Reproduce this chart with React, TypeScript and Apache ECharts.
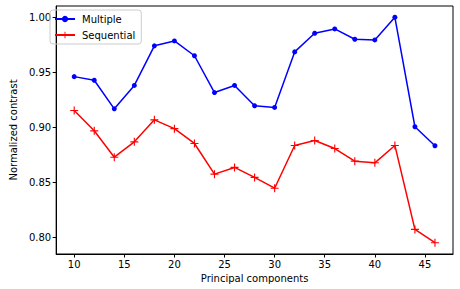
import React, { useEffect, useRef } from "react";
import * as echarts from "echarts";

const components = [10, 12, 14, 16, 18, 20, 22, 24, 26, 28, 30, 32, 34, 36, 38, 40, 42, 44, 46];
const multiple = [0.946, 0.9427, 0.9167, 0.938, 0.974, 0.9785, 0.965, 0.9315, 0.938, 0.9195, 0.918, 0.9685, 0.9855, 0.9894, 0.98, 0.9794, 1.0, 0.9004, 0.8831];
const sequential = [0.9152, 0.8967, 0.8727, 0.8867, 0.9067, 0.8987, 0.8852, 0.8573, 0.8634, 0.8543, 0.8445, 0.8834, 0.8879, 0.8806, 0.8691, 0.8676, 0.8834, 0.807, 0.7949];
const xTicks = [10, 15, 20, 25, 30, 35, 40, 45];
const yTicks = [0.8, 0.85, 0.9, 0.95, 1.0];

const FONT = "DejaVu Sans";
const PLUS = "path://M4.3,0H5.7V4.3H10V5.7H5.7V10H4.3V5.7H0V4.3H4.3Z";

export default function App() {
  const ref = useRef<HTMLDivElement>(null);
  useEffect(() => {
    const chart = echarts.init(ref.current!, null, { renderer: "svg" });
    const xMin = 8.2, xMax = 47.8;
    const lo = Math.min(...multiple, ...sequential);
    const hi = Math.max(...multiple, ...sequential);
    const pad = (hi - lo) * 0.05;
    chart.setOption({
      animation: false,
      textStyle: { fontFamily: FONT },
      grid: {
        left: 45, right: 7, top: 6, bottom: 35,
        show: true, borderColor: "#000", borderWidth: 1, backgroundColor: "transparent",
      },
      legend: {
        orient: "vertical", left: 50, top: 10,
        padding: [4, 6, 4, 4],
        itemWidth: 20, itemHeight: 8, itemGap: 6,
        borderColor: "#cccccc", borderWidth: 1, borderRadius: 3,
        textStyle: { fontFamily: FONT, fontSize: 10, color: "#000", padding: [0, 0, 0, 2] },
        data: ["Multiple", "Sequential"],
      },
      xAxis: {
        type: "value", min: xMin, max: xMax,
        name: "Principal components", nameLocation: "middle", nameGap: 17,
        nameTextStyle: { fontFamily: FONT, fontSize: 10, color: "#000" },
        axisLine: { show: true, lineStyle: { color: "#000", width: 1 } },
        axisTick: { show: true, length: 3.5, inside: false, customValues: xTicks, lineStyle: { color: "#000" } },
        axisLabel: { customValues: xTicks, margin: 5, fontSize: 10, color: "#000", fontFamily: FONT },
        splitLine: { show: false },
      },
      yAxis: {
        type: "value", min: lo - pad, max: hi + pad,
        name: "Normalized contrast", nameLocation: "middle", nameGap: 29,
        nameTextStyle: { fontFamily: FONT, fontSize: 10, color: "#000" },
        axisLine: { show: true, lineStyle: { color: "#000", width: 1 } },
        axisTick: { show: true, length: 3.5, customValues: yTicks, lineStyle: { color: "#000" } },
        axisLabel: { customValues: yTicks, margin: 5, fontSize: 10, color: "#000", fontFamily: FONT,
          formatter: (v: number) => v.toFixed(2) },
        splitLine: { show: false },
      },
      series: [
        {
          name: "Multiple", type: "line",
          data: components.map((c, i) => [c, multiple[i]]),
          symbol: "circle", symbolSize: 5, showAllSymbol: true,
          lineStyle: { color: "#0000ff", width: 1.5 },
          itemStyle: { color: "#0000ff" },
        },
        {
          name: "Sequential", type: "line",
          data: components.map((c, i) => [c, sequential[i]]),
          symbol: PLUS, symbolSize: 8, showAllSymbol: true,
          lineStyle: { color: "#ff0000", width: 1.5 },
          itemStyle: { color: "#ff0000" },
        },
      ],
    });
    return () => chart.dispose();
  }, []);
  return <div ref={ref} style={{ width: 460, height: 289, position: "absolute", left: 0, top: 0, background: "#fff" }} />;
}
